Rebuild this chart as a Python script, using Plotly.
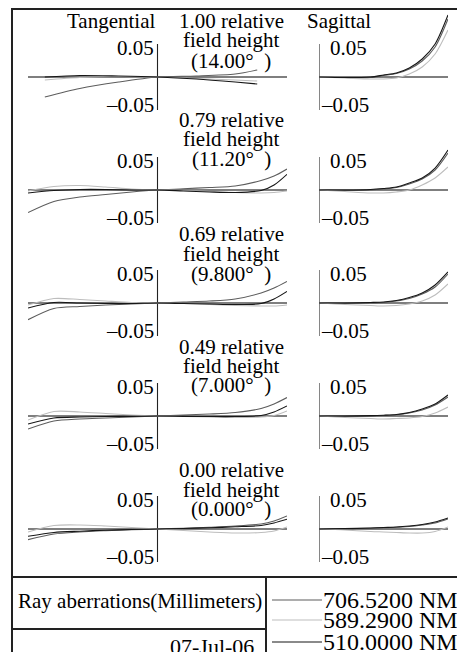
import plotly.graph_objects as go

W, H = 465, 652
OFF = 8  # default page margin around the plot div
FW, FH = W - OFF, H - OFF

FIELDS = ["1.00", "0.79", "0.69", "0.49", "0.00"]
ANGLES = ["14.00", "11.20", "9.800", "7.000", "0.000"]
WAVELENGTHS = ["706.5200 NM", "589.2900 NM", "510.0000 NM"]
COLORS = ["#5c5c5c", "#bdbdbd", "#161616"]

# relative pupil coordinates
TAN_PUPIL_EDGE = [-0.87, -0.6, -0.3, 0, 0.3, 0.6, 0.77]          # full field (vignetted)
TAN_PUPIL = [-1, -0.8, -0.6, -0.4, -0.2, 0, 0.2, 0.4, 0.6, 0.8, 0.9, 1.0]
SAG_PUPIL = [0, 0.2, 0.4, 0.5, 0.6, 0.7, 0.8, 0.9, 1.0]

# tangential ray aberrations (mm), one list per field
TAN_706 = [
    [-0.0303, -0.0174, -0.0076, 0, 0.0015, 0.0045, 0.0106],
    [-0.0342, -0.0174, -0.0106, -0.0068, -0.0030, 0, 0.0018, 0.0038, 0.0061, 0.0144, 0.0212, 0.0318],
    [-0.0253, -0.0083, -0.0053, -0.0030, -0.0015, 0, 0.0015, 0.0030, 0.0061, 0.0152, 0.0227, 0.0327],
    [-0.0197, -0.0076, -0.0045, -0.0030, -0.0015, 0, 0.0015, 0.0030, 0.0053, 0.0114, 0.0182, 0.0279],
    [-0.0162, -0.0076, -0.0045, -0.0026, -0.0011, 0, 0.0011, 0.0026, 0.0045, 0.0076, 0.0121, 0.0197],
]
TAN_589 = [
    [-0.0045, -0.0008, 0.0008, 0, -0.0023, -0.0045, -0.0061],
    [-0.0015, 0.0053, 0.0068, 0.0045, 0.0015, 0, -0.0008, -0.0023, -0.0038, -0.0045, -0.0038, -0.0015],
    [-0.0030, 0.0068, 0.0053, 0.0030, 0.0008, 0, -0.0008, -0.0023, -0.0038, -0.0045, -0.0045, -0.0030],
    [-0.0061, 0.0068, 0.0061, 0.0038, 0.0015, 0, -0.0008, -0.0015, -0.0023, -0.0015, 0.0008, 0.0076],
    [-0.0045, 0.0053, 0.0061, 0.0045, 0.0023, 0, -0.0023, -0.0045, -0.0061, -0.0053, -0.0030, 0.0030],
]
TAN_510 = [
    [0, 0.0023, 0.0015, 0, -0.0030, -0.0076, -0.0106],
    [-0.0045, -0.0008, 0.0008, 0.0008, 0, 0, -0.0015, -0.0030, -0.0038, -0.0008, 0.0076, 0.0238],
    [-0.0076, 0.0008, 0, -0.0008, -0.0008, 0, -0.0008, -0.0015, -0.0023, -0.0008, 0.0061, 0.0176],
    [-0.0121, -0.0030, -0.0015, -0.0008, -0.0005, 0, -0.0005, -0.0008, -0.0008, 0.0008, 0.0061, 0.0152],
    [-0.0111, -0.0053, -0.0033, -0.0018, -0.0008, 0, 0.0008, 0.0018, 0.0033, 0.0053, 0.0091, 0.0147],
]

# sagittal ray aberrations (mm)
SAG_706 = [
    [0, -0.0008, -0.0008, 0.0023, 0.0053, 0.0121, 0.0242, 0.0455, 0.0879],
    [0, -0.0008, 0, 0.0015, 0.0038, 0.0091, 0.0167, 0.0303, 0.0561],
    [0, -0.0008, 0, 0.0008, 0.0030, 0.0068, 0.0136, 0.0242, 0.0439],
    [0, -0.0005, 0, 0.0008, 0.0018, 0.0045, 0.0091, 0.0167, 0.0288],
    [0, 0.0005, 0.0012, 0.0018, 0.0027, 0.0038, 0.0061, 0.0091, 0.0152],
]
SAG_589 = [
    [0, -0.0015, -0.0030, -0.0030, -0.0015, 0.0045, 0.0152, 0.0348, 0.0712],
    [0, -0.0023, -0.0045, -0.0045, -0.0030, 0, 0.0076, 0.0182, 0.0348],
    [0, -0.0023, -0.0038, -0.0045, -0.0038, -0.0015, 0.0030, 0.0121, 0.0288],
    [0, -0.0023, -0.0038, -0.0045, -0.0038, -0.0030, -0.0008, 0.0045, 0.0136],
    [0, -0.0015, -0.0038, -0.0045, -0.0053, -0.0061, -0.0061, -0.0038, 0.0030],
]
SAG_510 = [
    [0, -0.0008, 0, 0.0030, 0.0061, 0.0136, 0.0273, 0.0500, 0.0939],
    [0, 0, 0.0008, 0.0023, 0.0045, 0.0106, 0.0182, 0.0333, 0.0606],
    [0, 0, 0.0008, 0.0015, 0.0038, 0.0083, 0.0152, 0.0273, 0.0470],
    [0, 0, 0.0005, 0.0012, 0.0023, 0.0053, 0.0106, 0.0182, 0.0318],
    [0, 0.0006, 0.0015, 0.0023, 0.0030, 0.0045, 0.0068, 0.0106, 0.0167],
]
AXIS_LIMIT = 0.05
TICK_LABELS = ["0.05", "\u20130.05"]

# ---------------- layout geometry (page pixels) ----------------
ZERO_PX = [77, 190, 303, 416, 529]
TITLE_PX = [(21, 40, 61), (120, 139, 159), (234, 254, 274), (347, 366, 385), (470, 490, 509)]
TAN_X = (28, 287)
SAG_X = (319, 448)
PX_PER_UNIT = 33 / AXIS_LIMIT
UP, DOWN = 72, 42

FONT = "Liberation Serif"
FS = 21
fig = go.Figure()
layout = dict(width=FW, height=FH, margin=dict(l=0, r=0, t=0, b=0, pad=0), autosize=False,
              paper_bgcolor="white", plot_bgcolor="rgba(0,0,0,0)", showlegend=False,
              font=dict(family=FONT, size=FS, color="black"))
shapes, annotations = [], []


def px(x):
    return (x - OFF) / FW


def py(y):
    return 1 - (y - OFF) / FH


def ann(text, x, y, xanchor="center", size=FS):
    annotations.append(dict(text=text, x=px(x), y=py(y), xref="paper", yref="paper",
                            xanchor=xanchor, yanchor="middle", showarrow=False,
                            font=dict(family=FONT, size=size, color="black")))


k = 0
for i in range(5):
    z = ZERO_PX[i]
    top_px = max(z - UP, OFF)
    ydom = [py(z + DOWN), py(top_px)]
    yrange = [-DOWN / PX_PER_UNIT, (z - top_px) / PX_PER_UNIT]
    for side in ("tan", "sag"):
        k += 1
        xa = "xaxis" if k == 1 else f"xaxis{k}"
        ya = "yaxis" if k == 1 else f"yaxis{k}"
        xr = "x" if k == 1 else f"x{k}"
        yr = "y" if k == 1 else f"y{k}"
        if side == "tan":
            xdom = [px(TAN_X[0]), px(TAN_X[1])]
            xrange = [-1, 1]
        else:
            xdom = [px(SAG_X[0]), px(SAG_X[1])]
            xrange = [0, 1]
        layout[xa] = dict(domain=xdom, range=xrange, visible=False, anchor=yr, fixedrange=True)
        layout[ya] = dict(domain=ydom, range=yrange, visible=False, anchor=xr, fixedrange=True)
        # axes
        shapes.append(dict(type="line", xref=xr, yref=yr, x0=xrange[0], x1=xrange[1], y0=0, y1=0,
                           line=dict(color="#555555", width=1.6), layer="below"))
        shapes.append(dict(type="line", xref=xr, yref=yr, x0=0, x1=0, y0=-AXIS_LIMIT, y1=AXIS_LIMIT,
                           line=dict(color="#222222", width=1.1), layer="below"))
        if side == "tan":
            pupils = TAN_PUPIL_EDGE if i == 0 else TAN_PUPIL
            series = [TAN_706[i], TAN_589[i], TAN_510[i]]
            annotations.append(dict(text=TICK_LABELS[0], x=0, y=AXIS_LIMIT, xref=xr, yref=yr,
                                    xanchor="right", yanchor="middle", xshift=-2, yshift=-4,
                                    showarrow=False, font=dict(family=FONT, size=FS)))
            annotations.append(dict(text=TICK_LABELS[1], x=0, y=-AXIS_LIMIT, xref=xr, yref=yr,
                                    xanchor="right", yanchor="middle", xshift=-2, yshift=5,
                                    showarrow=False, font=dict(family=FONT, size=FS)))
        else:
            pupils = SAG_PUPIL
            series = [SAG_706[i], SAG_589[i], SAG_510[i]]
            annotations.append(dict(text=TICK_LABELS[0], x=0, y=AXIS_LIMIT, xref=xr, yref=yr,
                                    xanchor="left", yanchor="middle", xshift=9, yshift=-4,
                                    showarrow=False, font=dict(family=FONT, size=FS)))
            annotations.append(dict(text=TICK_LABELS[1], x=0, y=-AXIS_LIMIT, xref=xr, yref=yr,
                                    xanchor="left", yanchor="middle", xshift=0, yshift=5,
                                    showarrow=False, font=dict(family=FONT, size=FS)))
        for vals, col in zip(series, COLORS):
            fig.add_trace(go.Scatter(x=pupils, y=vals, xaxis=xr, yaxis=yr, mode="lines",
                                     line=dict(color=col, width=1.1, shape="spline", smoothing=0.8),
                                     hoverinfo="skip"))
    t1, t2, t3 = TITLE_PX[i]
    ann(f"{FIELDS[i]} relative", 231, t1)
    ann("field height", 231, t2)
    ann(f"({ANGLES[i]}\u00b0\u00a0\u00a0)", 231, t3)

ann("Tangential", 157, 21, xanchor="right")
ann("Sagittal", 305, 21, xanchor="left")

# frame and table
shapes.append(dict(type="rect", xref="paper", yref="paper", x0=px(12), x1=px(460), y0=py(662), y1=py(9),
                   line=dict(color="#222222", width=2)))
shapes.append(dict(type="line", xref="paper", yref="paper", x0=px(12), x1=px(460), y0=py(577), y1=py(577),
                   line=dict(color="#222222", width=2)))
shapes.append(dict(type="line", xref="paper", yref="paper", x0=px(12), x1=px(266), y0=py(629), y1=py(629),
                   line=dict(color="#222222", width=2)))
shapes.append(dict(type="line", xref="paper", yref="paper", x0=px(266), x1=px(266), y0=py(577), y1=py(662),
                   line=dict(color="#222222", width=2)))
ann("Ray aberrations(Millimeters)", 140, 601, size=21)
ann("07-Jul-06", 212, 646, size=22)

LEG_Y = [600, 620, 642]
for wl, col, ly in zip(WAVELENGTHS, COLORS, LEG_Y):
    shapes.append(dict(type="line", xref="paper", yref="paper", x0=px(272), x1=px(322), y0=py(ly), y1=py(ly),
                       line=dict(color=col, width=1.2)))
    ann(wl, 321, ly, xanchor="left", size=24)

layout["shapes"] = shapes
layout["annotations"] = annotations
fig.update_layout(**layout)
fig.write_html("out.html")
